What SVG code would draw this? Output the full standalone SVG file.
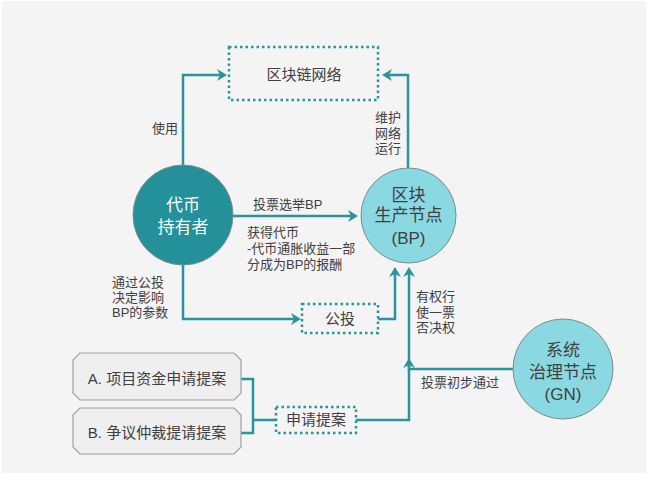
<svg xmlns="http://www.w3.org/2000/svg" width="648" height="480" viewBox="0 0 648 480">
<style>
text{font-family:"Liberation Sans","Noto Sans CJK SC",sans-serif;fill:#404040}
.s13{font-size:13px}
.s15{font-size:15px}
.s17{font-size:17px}
.mid{text-anchor:middle}
.conn{fill:none;stroke:#2a939b;stroke-width:2.5;marker-end:url(#ah)}
.line{fill:none;stroke:#2a939b;stroke-width:2.5}
.dot{fill:none;stroke:#2a939b;stroke-width:2.5;stroke-dasharray:2.5 3}
.oct{fill:#efefef;stroke:#a0a0a0;stroke-width:1.2}
</style>
<defs>
<marker id="ah" viewBox="0 0 10 12" refX="3" refY="6" markerWidth="10" markerHeight="12" markerUnits="userSpaceOnUse" orient="auto">
<path d="M0,0 L10,6 L0,12 L3,6 z" fill="#2a939b"/>
</marker>
</defs>
<rect x="2" y="1" width="644" height="472" fill="#f4f4f4"/>
<g id="connectors">
<path class="conn" d="M183,165 V75 H220"/>
<path class="conn" d="M408,168 V75 H389"/>
<path class="conn" d="M233,216 H351"/>
<path class="conn" d="M183,265 V319 H294"/>
<path class="conn" d="M378,319 H395 V274"/>
<path class="conn" d="M356,420 H409 V365"/>
<path class="conn" d="M513,369 H409 V274"/>
<path class="line" d="M241,379 H253 V433 H241 M253,420 H276"/>
<text class="s13" x="178" y="133" text-anchor="end">使用</text>
<text class="s13" x="375" y="122">维护</text>
<text class="s13" x="375" y="138">网络</text>
<text class="s13" x="375" y="153">运行</text>
<text class="s13" x="253" y="209">投票选举BP</text>
<text class="s13" x="247" y="237">获得代币</text>
<text class="s13" x="247" y="253">-代币通胀收益一部</text>
<text class="s13" x="247" y="269">分成为BP的报酬</text>
<text class="s13" x="112" y="287">通过公投</text>
<text class="s13" x="112" y="302">决定影响</text>
<text class="s13" x="112" y="317">BP的参数</text>
<text class="s13" x="416" y="301">有权行</text>
<text class="s13" x="416" y="317">使一票</text>
<text class="s13" x="416" y="332">否决权</text>
<text class="s13" x="421" y="387">投票初步通过</text>
</g>
<g id="network">
<rect class="dot" x="229" y="47" width="149" height="53"/>
<text class="s15 mid" x="304" y="80">区块链网络</text>
</g>
<g id="holder">
<circle cx="183" cy="215" r="50" fill="#23909a" stroke="#7f8c8d" stroke-width="1"/>
<text class="s17 mid" x="183" y="211" style="fill:#ffffff">代币</text>
<text class="s17 mid" x="183" y="233" style="fill:#ffffff">持有者</text>
</g>
<g id="bp">
<circle cx="408.5" cy="215.5" r="47.5" fill="#89d8e2" stroke="#7f8c8d" stroke-width="1"/>
<text class="s17 mid" x="408.5" y="201">区块</text>
<text class="s17 mid" x="408.5" y="221">生产节点</text>
<text class="s17 mid" x="408.5" y="244">(BP)</text>
</g>
<g id="referendum">
<rect class="dot" x="302" y="304" width="76" height="29"/>
<text class="s15 mid" x="340" y="324">公投</text>
</g>
<g id="gn">
<circle cx="563" cy="369" r="50" fill="#89d8e2" stroke="#7f8c8d" stroke-width="1"/>
<text class="s17 mid" x="563" y="356">系统</text>
<text class="s17 mid" x="563" y="378">治理节点</text>
<text class="s17 mid" x="563" y="400">(GN)</text>
</g>
<g id="proposalA">
<path class="oct" d="M80,353 H234 L241,360 V393 L234,400 H80 L73,393 V360 Z"/>
<text class="s15 mid" x="157" y="384">A. 项目资金申请提案</text>
</g>
<g id="proposalB">
<path class="oct" d="M80,408 H234 L241,415 V447 L234,454 H80 L73,447 V415 Z"/>
<text class="s15 mid" x="157" y="438">B. 争议仲裁提请提案</text>
</g>
<g id="apply">
<rect class="dot" x="276" y="407" width="80" height="26"/>
<text class="s15 mid" x="316" y="425">申请提案</text>
</g>
</svg>
